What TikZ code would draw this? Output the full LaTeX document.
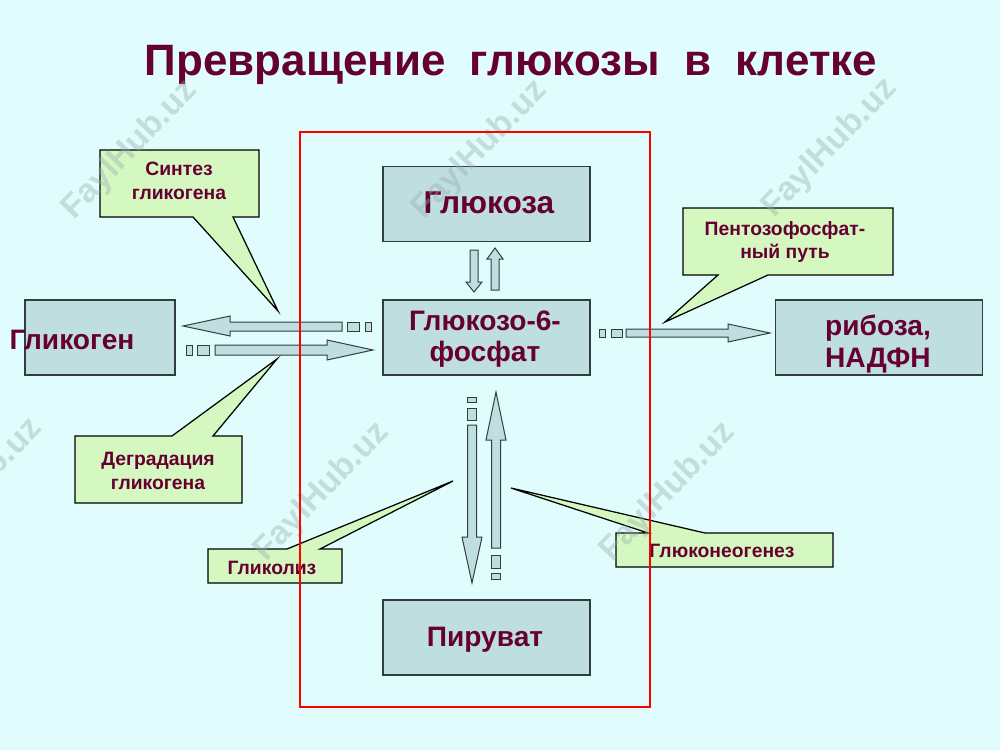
\documentclass[tikz,border=0pt]{standalone}
\usepackage{fontspec}
\setmainfont{Liberation Sans}

\definecolor{bgcyan}{RGB}{225,252,252}
\definecolor{boxblue}{RGB}{190,222,224}
\definecolor{calgreen}{RGB}{212,248,192}
\definecolor{wine}{RGB}{102,0,51}
\definecolor{edgegray}{RGB}{50,62,62}
\definecolor{wmgray}{RGB}{150,175,175}

\tikzset{
  box/.style={draw=edgegray, line width=0.3mm, fill=boxblue, inner sep=0pt,
    minimum width=41.4mm, minimum height=15mm},
  lbl/.style={text=wine, font=\bfseries\fontsize{16}{18}\selectfont, align=center},
  blockarr/.style={draw=edgegray, line width=0.2mm, fill=boxblue},
  callout/.style={draw=black, line width=0.25mm, fill=calgreen},
  caltext/.style={text=wine, font=\bfseries\fontsize{11}{13.6}\selectfont, align=center},
  wmark/.style={text=wmgray, text opacity=0.4, rotate=46,
    font=\bfseries\fontsize{19}{20}\selectfont}
}

\begin{document}
\begin{tikzpicture}[x=0.2mm, y=-0.2mm]
        % фон
        \fill[bgcyan] (0,0) rectangle (1000,750);
        \useasboundingbox (0,0) rectangle (1000,750);
        % заголовок
        \node[text=wine, font=\bfseries\fontsize{25}{30}\selectfont] (title) at (511,65)
          {Превращение~~глюкозы~~в~~клетке};
        % блоки
        \node[box, minimum width=30mm] (glycogen) at (100,337.5) {};
        \node[lbl] (glycogentxt) at (72,340) {Гликоген};
        \node[box] (glucose) at (486.5,204) {};
        \node[lbl, font=\bfseries\fontsize{18}{20}\selectfont] (glucosetxt) at (489,203) {Глюкоза};
        \node[box] (g6p) at (486.5,337.5) {};
        \node[lbl] (g6ptxt) at (485,339) {Глюкозо-6-\\фосфат};
        \node[box] (pyruvate) at (486.5,637.5) {};
        \node[lbl] (pyruvatetxt) at (485,640) {Пируват};
        \node[box] (ribose) at (879,337.5) {};
        \node[lbl, align=left] (ribosetxt) at (878,344) {рибоза,\\НАДФН};
        % стрелки гликоген
        \draw[blockarr] (342,322) -- (230,322) -- (230,316) -- (183,326) -- (230,336) -- (230,331) -- (342,331) -- cycle;
        \draw[blockarr] (347,322) rectangle (359,331);
        \draw[blockarr] (365,322) rectangle (371,331);
        \draw[blockarr] (215,345) -- (327,345) -- (327,340) -- (373,350) -- (327,360) -- (327,355) -- (215,355) -- cycle;
        \draw[blockarr] (197,345) rectangle (209,355);
        \draw[blockarr] (186,345) rectangle (192,355);
        % стрелка к рибозе
        \draw[blockarr] (626,329) -- (728,329) -- (728,324) -- (770,333) -- (728,342) -- (728,337) -- (626,337) -- cycle;
        \draw[blockarr] (611,329) rectangle (622,337);
        \draw[blockarr] (599,329) rectangle (605,337);
        % глюкоза <-> глюкозо-6-фосфат
        \draw[blockarr] (470,250) -- (470,282) -- (466,282) -- (474,292) -- (482,282) -- (478,282) -- (478,250) -- cycle;
        \draw[blockarr] (491,290) -- (491,259) -- (487,259) -- (495,248) -- (503,259) -- (499,259) -- (499,290) -- cycle;
        % глюкозо-6-фосфат <-> пируват
        \draw[blockarr] (467.5,425) -- (467.5,537) -- (462,537) -- (472,583) -- (482,537) -- (476.5,537) -- (476.5,425) -- cycle;
        \draw[blockarr] (467.5,408) rectangle (476.5,420);
        \draw[blockarr] (467.5,397) rectangle (476.5,402);
        \draw[blockarr] (491.5,548) -- (491.5,440) -- (486,440) -- (496,392) -- (506,440) -- (500.5,440) -- (500.5,548) -- cycle;
        \draw[blockarr] (491.5,555) rectangle (500.5,568);
        \draw[blockarr] (491.5,573) rectangle (500.5,579);
        % выноски
        \draw[callout] (100,150) -- (259,150) -- (259,217) -- (233,217) -- (278,311) -- (193,217) -- (100,217) -- cycle;
        \node[caltext] (synth) at (179,181) {Синтез\\гликогена};
        \draw[callout] (75,436) -- (172,436) -- (277,359) -- (213,436) -- (242,436) -- (242,503) -- (75,503) -- cycle;
        \node[caltext] (degr) at (158,471) {Деградация\\гликогена};
        \draw[callout] (683,208) -- (893,208) -- (893,275) -- (768,275) -- (665,322) -- (718,275) -- (683,275) -- cycle;
        \node[caltext] (pentose) at (785,242) {Пентозофосфат-\\ный путь};
        \draw[callout] (208,549) -- (287,549) -- (453,481) -- (320,549) -- (342,549) -- (342,583) -- (208,583) -- cycle;
        \node[caltext] (glycolysis) at (272,568) {Гликолиз};
        \draw[callout] (616,533) -- (648,533) -- (511,488) -- (705,533) -- (833,533) -- (833,567) -- (616,567) -- cycle;
        \node[caltext] (gluconeo) at (722,551) {Глюконеогенез};
        % водяные знаки
        \node[wmark] (wm1) at (130,150) {FaylHub.uz};
        \node[wmark] (wm2) at (480,150) {FaylHub.uz};
        \node[wmark] (wm3) at (830,148) {FaylHub.uz};
        \node[wmark] (wm4) at (-25,488) {FaylHub.uz};
        \node[wmark] (wm5) at (322,492) {FaylHub.uz};
        \node[wmark] (wm6) at (668,492) {FaylHub.uz};
        % клетка
        \draw[red, line width=0.55mm] (300,132) rectangle (650,707);
      \end{tikzpicture}
\end{document}
